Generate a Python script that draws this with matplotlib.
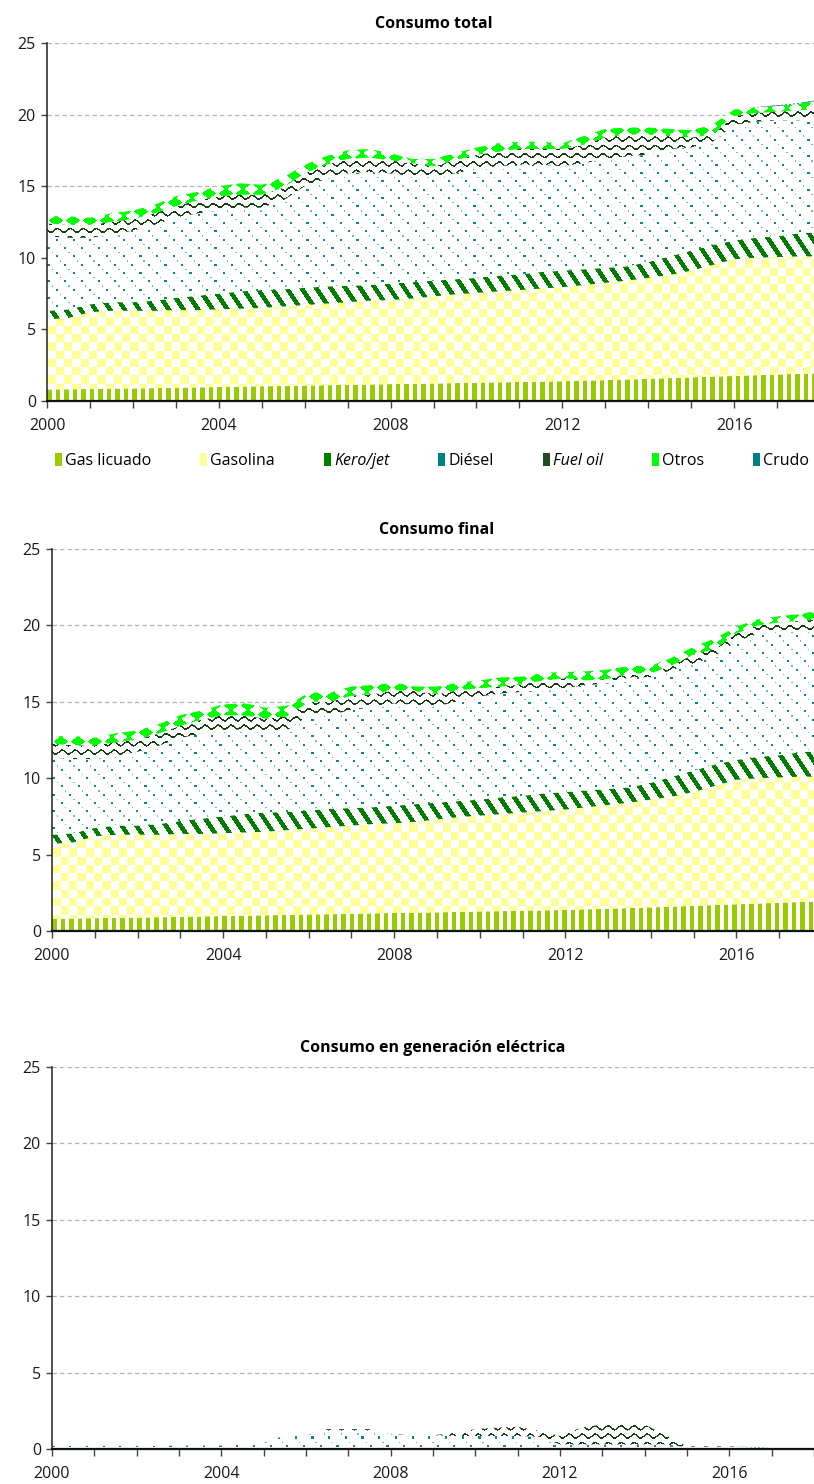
import numpy as np
import matplotlib
matplotlib.use("Agg")
import matplotlib.pyplot as plt
from matplotlib.patches import Patch
from matplotlib.colors import to_rgb

plt.rcParams['font.family'] = ['Open Sans', 'DejaVu Sans']
plt.rcParams['font.size'] = 11.5

# ---------------- data (half-year steps) ----------------
periods = list(np.arange(2000.0, 2018.0, 0.5)) + [2018.0]

series_names = ["Gas licuado", "Gasolina", "Kero/jet", "Diésel", "Fuel oil", "Otros", "Crudo"]

gas_licuado = [0.80, 0.82, 0.84, 0.86, 0.88, 0.90, 0.93, 0.95, 0.98, 1.00, 1.03, 1.05, 1.08,
               1.10, 1.13, 1.15, 1.18, 1.20, 1.22, 1.25, 1.28, 1.30, 1.33, 1.35, 1.38, 1.42,
               1.46, 1.50, 1.55, 1.60, 1.65, 1.70, 1.75, 1.80, 1.85, 1.90, 1.93]
gasolina = [4.90, 4.98, 5.36, 5.44, 5.42, 5.40, 5.42, 5.40, 5.42, 5.45, 5.47, 5.55, 5.62,
            5.70, 5.77, 5.85, 5.87, 5.95, 6.08, 6.20, 6.27, 6.35, 6.42, 6.50, 6.57, 6.68,
            6.79, 6.90, 7.05, 7.20, 7.45, 7.80, 8.15, 8.20, 8.20, 8.20, 8.17]
kero_jet = [0.60, 0.60, 0.55, 0.60, 0.60, 0.70, 0.85, 1.00, 1.10, 1.20, 1.25, 1.20, 1.20,
            1.20, 1.15, 1.10, 1.15, 1.15, 1.10, 1.05, 1.05, 1.10, 1.10, 1.15, 1.15, 1.10,
            1.05, 1.00, 1.10, 1.30, 1.40, 1.40, 1.30, 1.40, 1.45, 1.60, 1.70]
otros = [0.50, 0.60, 0.50, 0.60, 0.60, 0.60, 0.70, 0.60, 0.70, 0.80, 0.70, 0.70, 0.60,
         0.60, 0.60, 0.60, 0.50, 0.30, 0.50, 0.50, 0.50, 0.60, 0.50, 0.50, 0.40, 0.60,
         0.60, 0.50, 0.50, 0.50, 0.50, 0.70, 0.45, 0.40, 0.40, 0.45, 0.60]

# Consumo total
diesel_total = [5.20, 5.00, 4.65, 4.70, 5.00, 5.30, 5.60, 5.75, 5.80, 5.85, 5.75, 6.20, 7.10,
                7.50, 7.85, 7.90, 7.70, 7.40, 7.20, 7.40, 7.60, 7.65, 7.65, 7.50, 7.30, 7.40,
                7.60, 7.70, 7.50, 7.50, 7.20, 7.20, 8.10, 8.10, 8.10, 7.90, 7.90]
fuel_oil_total = [0.90, 0.90, 0.90, 0.90, 0.80, 0.80, 0.80, 0.90, 1.00, 0.90, 0.90, 0.90, 0.90,
                  1.00, 1.00, 1.00, 0.90, 0.90, 0.80, 0.90, 1.00, 1.00, 1.10, 1.10, 1.20, 1.30,
                  1.50, 1.50, 1.40, 0.90, 0.70, 0.50, 0.60, 0.60, 0.60, 0.70, 0.70]
crudo_total = [0.0] * 33 + [0.02, 0.05, 0.05, 0.05]

# Consumo final
diesel_final = [5.05, 4.85, 4.50, 4.55, 4.83, 5.13, 5.43, 5.58, 5.63, 5.55, 5.25, 5.35, 6.20,
                6.10, 6.45, 6.50, 6.70, 6.50, 6.30, 6.55, 6.75, 6.80, 6.80, 6.70, 6.80, 6.90,
                6.90, 7.20, 6.90, 7.00, 6.95, 7.12, 7.75, 8.05, 8.10, 7.90, 7.90]
fuel_oil_final = [0.90, 0.90, 0.90, 0.90, 0.80, 0.80, 0.80, 0.90, 1.00, 0.90, 0.90, 0.90, 0.90,
                  0.90, 0.90, 0.90, 0.85, 0.90, 0.80, 0.70, 0.55, 0.45, 0.50, 0.70, 0.65, 0.30,
                  0.30, 0.25, 0.25, 0.30, 0.65, 0.43, 0.53, 0.55, 0.60, 0.70, 0.70]
crudo_final = [0.0] * 37

# Consumo en generación eléctrica
sin_consumo = [0.0] * 37
diesel_gen = [0.20, 0.20, 0.20, 0.20, 0.20, 0.20, 0.22, 0.22, 0.22, 0.32, 0.50, 0.85, 0.90,
              1.20, 1.20, 1.20, 1.00, 0.90, 0.90, 0.85, 0.85, 0.85, 0.85, 0.80, 0.30, 0.30,
              0.30, 0.30, 0.30, 0.30, 0.12, 0.10, 0.10, 0.06, 0.00, 0.00, 0.00]
fuel_oil_gen = [0.0, 0.0, 0.0, 0.0, 0.0, 0.0, 0.0, 0.0, 0.0, 0.0, 0.0, 0.0, 0.0,
                0.10, 0.10, 0.10, 0.05, 0.0, 0.0, 0.20, 0.45, 0.55, 0.60, 0.40, 0.55, 1.10,
                1.30, 1.40, 1.30, 0.60, 0.05, 0.07, 0.07, 0.05, 0.0, 0.0, 0.0]
crudo_gen = [0.0] * 33 + [0.02, 0.06, 0.06, 0.06]

titles = ["Consumo total", "Consumo final", "Consumo en generación eléctrica"]
year_ticks = list(range(2000, 2019))
y_ticks = [0, 5, 10, 15, 20, 25]

# ---------------- styling ----------------
FW, FH = 814, 1484
kinds = ["bars", "checker", "stripes", "dots", "waves", "triangles", "crudo"]
legend_colors = ['#99cc00', '#ffff99', '#008000', '#008080', '#1f4d1f', '#00ff00', '#008080']


def pattern(kind, w, h):
    yy, xx = np.mgrid[0:h, 0:w].astype(float)
    yb = (h - 1) - yy          # distance from the bottom
    img = np.ones((h, w, 4))

    def paint(mask, color):
        img[mask, :3] = to_rgb(color)

    if kind == "bars":
        paint((xx % 8.5) < 4.3, '#99cc00')
    elif kind == "checker":
        paint(((np.floor(xx / 8.3) + np.floor(yy / 8.3)) % 2) == 0, '#ffff99')
    elif kind == "stripes":
        paint(((xx - yy / 1.5) % 14.7) < 5.5, '#007d00')
    elif kind == "dots":
        row = np.floor((yb - 1.0) / 8.33)
        r = (yb - 1.0) % 8.33
        m = (r >= 0.5) & (r < 2.7) & (((xx + (row % 2) * 8.35) % 16.7) < 2.2)
        paint(m, '#0b8585')
        m2 = (r >= 4.6) & (r < 5.8) & (((xx + 4.2 + (row % 2) * 8.35) % 16.7) < 1.3)
        paint(m2, '#74b8b8')
    elif kind == "waves":
        d = (yb + 1.9 * np.sin(2 * np.pi * xx / 13.0)) % 8.3
        m = np.abs(d - 4.15) < 0.95
        paint(m, '#163f16')
    elif kind == "triangles":
        u = xx % 17.0
        v = yb % 9.0
        m_down = (v >= 4.5) & (np.abs(u - 8.5) < (v - 3.5) * 1.35)
        m_up = (v < 4.5) & (np.abs(u - 8.5) < (5.5 - v) * 1.35)
        paint(m_down | m_up, '#00ff00')
    elif kind == "crudo":
        img[..., :3] = to_rgb('#006f6f')
        paint(((xx % 4) < 1.5) & ((yy % 4) < 1.5), '#ffffff')
    return img


panels = [
    (titles[0], (47, 820, 43, 401),
     [gas_licuado, gasolina, kero_jet, diesel_total, fuel_oil_total, otros, crudo_total]),
    (titles[1], (52, 822, 549, 931),
     [gas_licuado, gasolina, kero_jet, diesel_final, fuel_oil_final, otros, crudo_final]),
    (titles[2], (52, 814, 1067, 1449),
     [sin_consumo, sin_consumo, sin_consumo, diesel_gen, fuel_oil_gen, sin_consumo, crudo_gen]),
]

fig = plt.figure(figsize=(FW / 100, FH / 100), dpi=100)

for title, (l, r, t, b), data in panels:
    ax = fig.add_axes([l / FW, 1 - b / FH, (r - l) / FW, (b - t) / FH])
    pw, ph = r - l, b - t
    polys = ax.stackplot(periods, *data, colors=['white'] * 7, linewidth=0)
    for poly, kind in zip(polys, kinds):
        poly.set_facecolor('none')
        poly.set_edgecolor('none')
        im = ax.imshow(pattern(kind, pw, ph), extent=(2000, 2018, 0, 25), origin='upper',
                       aspect='auto', interpolation='nearest', zorder=2)
        im.set_clip_path(poly.get_paths()[0], poly.get_transform())

    ax.set_xlim(2000, 2018)
    ax.set_ylim(0, 25)
    ax.set_xticks(year_ticks)
    ax.set_xticklabels([str(y) if (y % 4 == 0 and y < 2018) else '' for y in year_ticks])
    ax.set_yticks(y_ticks)
    ax.set_yticklabels([str(v) for v in y_ticks])
    ax.set_axisbelow(True)
    ax.yaxis.grid(True, linestyle=(0, (3.5, 2.5)), color='#b3b3b3', linewidth=0.9)
    for s in ['top', 'right']:
        ax.spines[s].set_visible(False)
    ax.spines['left'].set_color('#222222')
    ax.spines['left'].set_linewidth(1.1)
    ax.spines['bottom'].set_color('#111111')
    ax.spines['bottom'].set_linewidth(1.6)
    ax.tick_params(axis='x', length=5, width=1, color='#444444', pad=7, labelcolor='#1a1a1a')
    ax.tick_params(axis='y', length=4, width=1, color='#444444', pad=4, labelcolor='#1a1a1a')
    ax.set_title(title, fontweight='bold', fontsize=11.5, pad=11)

handles = [Patch(facecolor=c, edgecolor='none') for c in legend_colors]
leg = fig.legend(handles, series_names, loc='center', bbox_to_anchor=(432 / FW, 1 - 461 / FH),
                 ncol=7, frameon=False, handlelength=0.45, handleheight=0.9,
                 handletextpad=0.2, columnspacing=3.05, fontsize=11.5, borderaxespad=0)
for i in (2, 4):
    leg.get_texts()[i].set_style('italic')

fig.savefig('out.png', dpi=100)
